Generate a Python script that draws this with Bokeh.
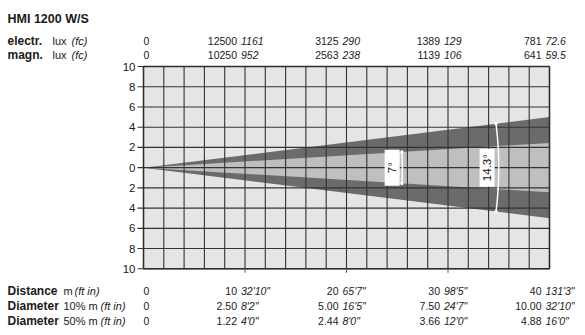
import numpy as np
from bokeh.plotting import figure
from bokeh.models import Range1d, ColumnDataSource
from bokeh.core.properties import value
from bokeh.embed import file_html
from bokeh.resources import INLINE

# ---------------- data ----------------
title = "HMI 1200 W/S"
distance_m = [0, 10, 20, 30, 40]
distance_ft = ["", "32'10\"", "65'7\"", "98'5\"", "131'3\""]
electr_lux = [0, 12500, 3125, 1389, 781]
electr_fc = ["", "1161", "290", "129", "72.6"]
magn_lux = [0, 10250, 2563, 1139, 641]
magn_fc = ["", "952", "238", "106", "59.5"]
diam10_m = [0, 2.50, 5.00, 7.50, 10.00]
diam10_ft = ["", "8'2\"", "16'5\"", "24'7\"", "32'10\""]
diam50_m = [0, 1.22, 2.44, 3.66, 4.88]
diam50_ft = ["", "4'0\"", "8'0\"", "12'0\"", "16'0\""]
beam_angles = [7.0, 14.3]          # 50 % and 10 % beam angles (deg)
y_ticks = [10, 8, 6, 4, 2, 0, -2, -4, -6, -8, -10]
y_tick_labels = ["10", "8", "6", "4", "2", "0", "2", "4", "6", "8", "10"]

# ---------------- layout ----------------
W, H = 585, 335
X0, PXM = 143.0, 10.15      # px of x=0, px per metre
YT, PYM = 66.0, 10.115      # px of y=+10, px per metre
FONT = "Liberation Sans"
TXT = "#1a1a1a"

def dx(cx):
    return (cx - X0) / PXM

def dy(cy):
    return 10 - (cy - YT) / PYM

p = figure(width=W, height=H, output_backend="svg", toolbar_location=None,
           x_range=Range1d(dx(0), dx(W)), y_range=Range1d(dy(H), dy(0)),
           min_border=0)
p.axis.visible = False
p.grid.visible = False
p.outline_line_color = None
p.background_fill_color = "white"
p.border_fill_color = "white"

xmax = distance_m[-1]
# grid background
p.quad(left=0, right=xmax, bottom=-10, top=10, fill_color="#e5e5e5", line_color=None)

# beam (10 % outer dark, 50 % inner light)
r10 = diam10_m[-1] / 2
r50 = diam50_m[-1] / 2
p.patch([0, xmax, xmax], [0, r10, -r10], fill_color="#6b6b6b", line_color=None)
p.patch([0, xmax, xmax], [0, r50, -r50], fill_color="#bfbfbf", line_color=None)

# grid lines
gx = list(range(0, xmax + 1, 2))
p.segment(x0=gx, y0=[-10] * len(gx), x1=gx, y1=[10] * len(gx),
          line_color="#333333", line_width=1.1)
p.segment(x0=[dx(X0 - 6)] * len(y_ticks), y0=y_ticks, x1=[xmax] * len(y_ticks), y1=y_ticks,
          line_color="#333333", line_width=1.1)
p.quad(left=0, right=xmax, bottom=-10, top=10, fill_color=None,
       line_color="#2e2e2e", line_width=1.5)
# small ticks under the grid
bt = distance_m[1:-1]
p.segment(x0=bt, y0=[-10] * len(bt), x1=bt, y1=[dy(YT + 20 * PYM + 4)] * len(bt),
          line_color="#555555", line_width=1)

# y tick labels
p.text(x=[dx(X0 - 8)] * len(y_ticks), y=y_ticks, text=y_tick_labels,
       text_font=value(FONT), text_font_size="11.5px", text_align="right",
       text_baseline="middle", text_color=TXT)

# beam angle arcs + labels
arc_r = [25.5, 35.0]
for ang, r in zip(beam_angles, arc_r):
    h = np.radians(ang / 2)
    t = np.linspace(-h, h, 40)
    p.line(r * np.cos(t), r * np.sin(t), line_color="white", line_width=1.5)
    p.scatter([r * np.cos(-h), r * np.cos(h)], [r * np.sin(-h), r * np.sin(h)],
              size=3.5, fill_color="white", line_color=None)
    bx = r - 1.0 - 0.15 * (ang > 10)
    p.rect(x=[bx], y=[0], width=15, height=36 + 2 * (ang > 10),
           width_units="screen", height_units="screen",
           fill_color="white", line_color=None)
    p.text(x=[bx], y=[0], text=[f"{ang:g}°"], angle=np.pi / 2,
           text_font=value(FONT), text_font_size="11.5px", text_align="center",
           text_baseline="middle", text_color="#111111")

# ---------------- header text ----------------
def txt(cx, cy, s, style="normal", size="11px", align="left"):
    p.text(x=[dx(cx)], y=[dy(cy)], text=[s], text_font=value(FONT),
           text_font_size=size, text_font_style=style, text_align=align,
           text_baseline="alphabetic", text_color=TXT)

txt(7, 18, title, "bold", "12.5px")
for cy, name in [(40.5, "electr."), (54.5, "magn.")]:
    txt(7, cy, name, "bold", "12px")
    txt(52, cy, "lux", "normal", "11px")
    txt(71, cy, "(fc)", "italic", "11px")

def value_row(cy, main, ital):
    src = ColumnDataSource(dict(x=distance_m[1:], m=main[1:], i=ital[1:]))
    p.text(x=distance_m[:1], y=[dy(cy)], text=[main[0]], text_font=value(FONT),
           text_font_size="10.5px", text_align="left", text_baseline="alphabetic",
           text_color=TXT)
    p.text(x="x", y=dy(cy), text="m", source=src, x_offset=-8,
           text_font=value(FONT), text_font_size="10.5px", text_align="right",
           text_baseline="alphabetic", text_color=TXT)
    p.text(x="x", y=dy(cy), text="i", source=src, x_offset=-4,
           text_font=value(FONT), text_font_size="10.5px", text_font_style="italic",
           text_align="left", text_baseline="alphabetic", text_color=TXT)

value_row(40, [str(v) for v in electr_lux], electr_fc)
value_row(54, [str(v) for v in magn_lux], magn_fc)

# ---------------- footer text ----------------
rows = [
    (290, "Distance", "m", 63, 74, [str(v) for v in distance_m], distance_ft),
    (305, "Diameter", "10% m", 63, 100, [f"{v:.2f}" if v else "0" for v in diam10_m], diam10_ft),
    (320, "Diameter", "50% m", 63, 100, [f"{v:.2f}" if v else "0" for v in diam50_m], diam50_ft),
]
for cy, bold, norm, nx, ix, main, ital in rows:
    txt(7, cy, bold, "bold", "12px")
    txt(nx, cy, norm, "normal", "11px")
    txt(ix, cy, "(ft in)", "italic", "11px")
    value_row(cy, main, ital)

open("out.html", "w").write(file_html(p, INLINE))
